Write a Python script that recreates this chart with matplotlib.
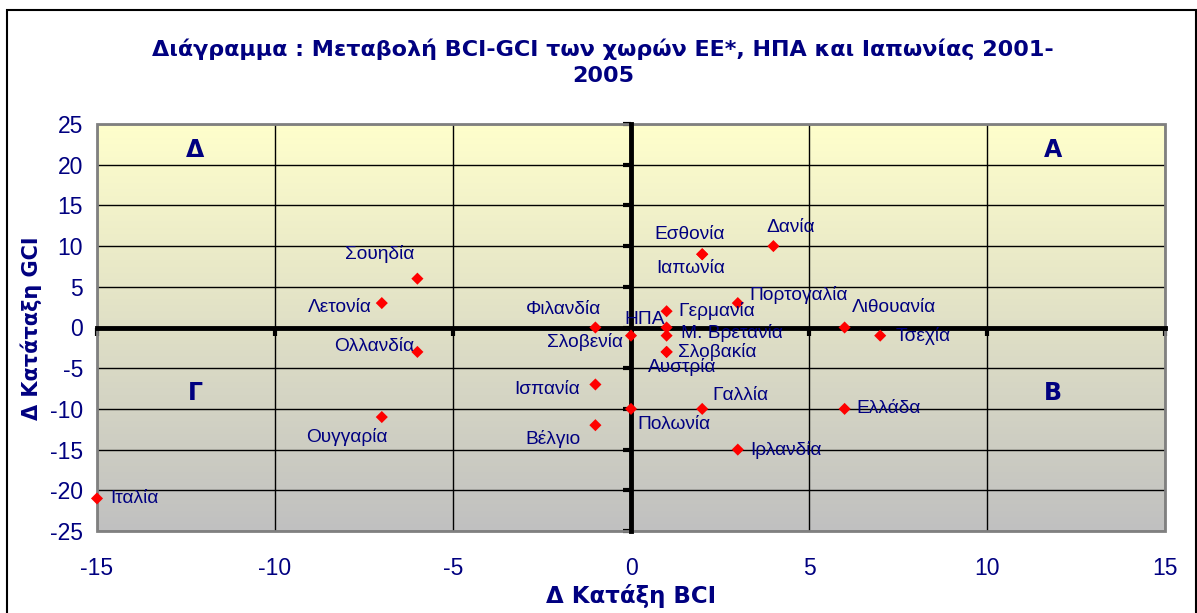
import matplotlib
matplotlib.use("Agg")
import matplotlib.pyplot as plt
import numpy as np
from matplotlib.patches import Rectangle
from matplotlib.colors import LinearSegmentedColormap

plt.rcParams['font.family'] = ['Liberation Sans', 'DejaVu Sans']
plt.rcParams['axes.unicode_minus'] = False

# ---- data ----
countries = ['Σουηδία', 'Λετονία', 'Ολλανδία', 'Φιλανδία', 'Σλοβενία', 'ΗΠΑ',
             'Εσθονία', 'Ιαπωνία', 'Δανία', 'Πορτογαλία', 'Γερμανία', 'Μ. Βρετανία',
             'Σλοβακία', 'Αυστρία', 'Λιθουανία', 'Τσεχία', 'Γαλλία', 'Ελλάδα',
             'Ιρλανδία', 'Πολωνία', 'Ισπανία', 'Βέλγιο', 'Ουγγαρία', 'Ιταλία']
d_bci = [-6, -7, -6, -1, 0, 1, 2, 2, 4, 3, 1, 1, 1, 1, 6, 7, 2, 6, 3, 0, -1, -1, -7, -15]
d_gci = [6, 3, -3, 0, -1, 0, 9, 9, 10, 3, 2, -1, -3, -3, 0, -1, -10, -10, -15, -10, -7, -12, -11, -21]
x_ticks = [-15, -10, -5, 0, 5, 10, 15]
y_ticks = [25, 20, 15, 10, 5, 0, -5, -10, -15, -20, -25]
quadrants = ['Α', 'Β', 'Γ', 'Δ']

title = 'Διάγραμμα : Μεταβολή BCI-GCI των χωρών ΕΕ*, ΗΠΑ και Ιαπωνίας 2001-\n2005'
xlabel = 'Δ Κατάξη BCI'
ylabel = 'Δ Κατάταξη GCI'

# ---- label placement (pixel offsets, alignment) ----
label_style = {
    'Σουηδία': (-38, 25, 'center'), 'Λετονία': (-10, -4, 'right'),
    'Ολλανδία': (-3, 5, 'right'), 'Φιλανδία': (-32, 18, 'center'),
    'Σλοβενία': (-8, -6, 'right'), 'ΗΠΑ': (-22, 8, 'center'),
    'Εσθονία': (-13, 20, 'center'), 'Ιαπωνία': (-12, -14, 'center'),
    'Δανία': (17, 19, 'center'), 'Πορτογαλία': (12, 8, 'left'),
    'Γερμανία': (12, 0, 'left'), 'Μ. Βρετανία': (14, 3, 'left'),
    'Σλοβακία': (11, 0, 'left'), 'Αυστρία': (16, -15, 'center'),
    'Λιθουανία': (7, 20, 'left'), 'Τσεχία': (15, 0, 'left'),
    'Γαλλία': (10, 13, 'left'), 'Ελλάδα': (12, 0, 'left'),
    'Ιρλανδία': (12, 0, 'left'), 'Πολωνία': (6, -16, 'left'),
    'Ισπανία': (-15, -5, 'right'), 'Βέλγιο': (-15, -14, 'right'),
    'Ουγγαρία': (-35, -20, 'center'), 'Ιταλία': (13, 0, 'left'),
}
quad_pos = {'Α': (11.85, 21.8), 'Β': (11.85, -8.0), 'Γ': (-12.25, -8.0), 'Δ': (-12.25, 21.8)}

NAVY = '#000080'
WIDE_BOLD = ['DejaVu Sans']
W, H = 1197, 613
fig = plt.figure(figsize=(W / 100, H / 100), dpi=100)
fig.patch.set_facecolor('white')

rect = [97 / W, (H - 531) / H, (1165 - 97) / W, (531 - 124) / H]

# axes for tick labels at the plot edges
axl = fig.add_axes(rect)
axl.set_xlim(-15, 15)
axl.set_ylim(-25, 25)
axl.set_xticks(x_ticks)
axl.set_yticks(y_ticks)
axl.tick_params(length=0, labelsize=16.5, labelcolor=NAVY, pad=10)
axl.tick_params(axis='x', pad=19)
for s in axl.spines.values():
    s.set_visible(False)
axl.patch.set_visible(False)

# main axes
ax = fig.add_axes(rect, sharex=axl, sharey=axl)
ax.patch.set_visible(False)
cmap = LinearSegmentedColormap.from_list('bg', ['#C0C0C0', '#FFFFCC'])
grad = np.linspace(0, 1, 256).reshape(-1, 1)
ax.imshow(grad, cmap=cmap, origin='lower', extent=[-15, 15, -25, 25],
          aspect='auto', zorder=0)
ax.set_xlim(-15, 15)
ax.set_ylim(-25, 25)
ax.grid(True, color='black', linewidth=1.0, zorder=1)
ax.set_axisbelow(True)
for side in ['top', 'right']:
    ax.spines[side].set_visible(False)
ax.spines['left'].set_position(('data', 0))
ax.spines['bottom'].set_position(('data', 0))
for side in ['left', 'bottom']:
    ax.spines[side].set_linewidth(3.5)
    ax.spines[side].set_color('black')
    ax.spines[side].set_zorder(3)
ax.tick_params(direction='out', length=6, width=3, color='black',
               labelleft=False, labelbottom=False)
ax.add_patch(Rectangle((0, 0), 1, 1, transform=ax.transAxes, fill=False,
                       edgecolor='#808080', linewidth=2, zorder=2, clip_on=False))

ax.scatter(d_bci, d_gci, marker='D', s=38, color='#FF0000', zorder=5,
           edgecolors='none', clip_on=False)
for name, x, y in zip(countries, d_bci, d_gci):
    dx, dy, ha = label_style[name]
    ax.annotate(name, (x, y), xytext=(dx, dy), textcoords='offset pixels',
                ha=ha, va='center', fontsize=13.8, color=NAVY, zorder=6)

for q in quadrants:
    qx, qy = quad_pos[q]
    ax.text(qx, qy, q, ha='center', va='center', fontsize=17, fontweight='bold',
            color=NAVY, zorder=6, family=WIDE_BOLD)

fig.text(603 / W, 1 - 62 / H, title, ha='center', va='center', fontsize=16,
         fontweight='bold', color=NAVY, linespacing=1.35, family=WIDE_BOLD)
fig.text(631 / W, 1 - 596 / H, xlabel, ha='center', va='center', fontsize=16.5,
         fontweight='bold', color=NAVY, family=WIDE_BOLD)
fig.text(31 / W, 1 - 328 / H, ylabel, ha='center', va='center', fontsize=15,
         fontweight='bold', color=NAVY, rotation=90, family=WIDE_BOLD)

fig.add_artist(Rectangle((7 / W, -0.02), 1189 / W, (H - 10) / H + 0.02,
                         transform=fig.transFigure, fill=False,
                         edgecolor='black', linewidth=1.5))

fig.savefig('out.png', dpi=100)
